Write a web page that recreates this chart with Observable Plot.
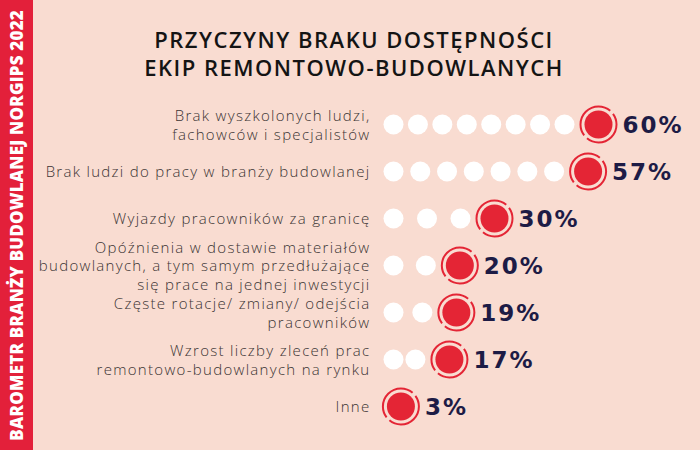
<!DOCTYPE html>
<html>
<head>
<meta charset="utf-8">
<script src="https://cdn.jsdelivr.net/npm/d3@7"></script>
<script src="https://cdn.jsdelivr.net/npm/@observablehq/plot@0.6"></script>
<style>
  html, body { margin: 0; padding: 0; background: #f9dcd1; }
  #wrap { width: 700px; height: 450px; display: flex; background: #f9dcd1; overflow: hidden; }
  #band { width: 33px; height: 450px; background: #e3203a; display: flex; align-items: center; justify-content: center; flex: none; }
  #band span { writing-mode: vertical-rl; transform: rotate(180deg); color: #fff; font-family: "Open Sans", sans-serif; font-weight: 800; font-size: 17px; letter-spacing: 0.2px; white-space: nowrap; }
  #main { width: 667px; flex: none; }
  #title { height: 98px; box-sizing: border-box; padding-top: 25px; padding-right: 25px; text-align: center; font-family: "Open Sans", sans-serif; font-weight: 600; font-size: 22px; line-height: 28px; letter-spacing: 1.5px; color: #141414; }
  g[font-family="DejaVu Sans"] text { letter-spacing: 2px; }
  g[font-family="Open Sans"] text { letter-spacing: 1.3px; }
</style>
</head>
<body>
<div id="wrap">
  <div id="band"><span>BAROMETR BRANŻY BUDOWLANEJ NORGIPS 2022</span></div>
  <div id="main">
    <div id="title">PRZYCZYNY BRAKU DOSTĘPNOŚCI<br>EKIP REMONTOWO-BUDOWLANYCH</div>
    <div id="chart"></div>
  </div>
</div>
<script>
const categories = [
  "Brak wyszkolonych ludzi,\nfachowców i specjalistów",
  "Brak ludzi do pracy w branży budowlanej",
  "Wyjazdy pracowników za granicę",
  "Opóźnienia w dostawie materiałów\nbudowlanych, a tym samym przedłużające\nsię prace na jednej inwestycji",
  "Częste rotacje/ zmiany/ odejścia\npracowników",
  "Wzrost liczby zleceń prac\nremontowo-budowlanych na rynku",
  "Inne"
];
const values = [60, 57, 30, 20, 19, 17, 3];
const whiteDots = [8, 7, 3, 2, 2, 2, 0];

const red = "#e42535", navy = "#1d1b45";
const xDomain = [0, 60], xRange = [357, 565];
const xs = d3.scaleLinear().domain(xDomain).range(xRange);

const rows = categories.map((c, i) => ({cat: c, value: values[i], n: whiteDots[i]}));
const whites = [];
rows.forEach(r => {
  const start = 360, end = xs(r.value) - 34;
  for (let i = 0; i < r.n; i++) {
    const px = r.n > 1 ? start + i * (end - start) / (r.n - 1) : start;
    whites.push({cat: r.cat, x: xs.invert(px)});
  }
});

const chart = Plot.plot({
  width: 667,
  height: 352,
  marginLeft: 345,
  marginRight: 0,
  marginTop: 0,
  marginBottom: 0,
  style: {background: "transparent", overflow: "visible"},
  x: {domain: xDomain, range: xRange, axis: null},
  y: {type: "point", domain: categories, range: [24, 309], padding: 0, axis: null},
  marks: [
    Plot.text(rows, {y: "cat", text: "cat", frameAnchor: "left", textAnchor: "end", dx: -8,
      lineHeight: 1.24, fontSize: 15, fontWeight: 300, fontFamily: "Open Sans", fill: "#3b3434"}),
    Plot.dot(whites, {x: "x", y: "cat", r: 10, fill: "#ffffff"}),
    Plot.dot(rows, {x: "value", y: "cat", r: 14, fill: red}),
    Plot.dot(rows, {x: "value", y: "cat", r: 18, fill: "none", stroke: red, strokeWidth: 2,
      strokeDasharray: "52.5,4", strokeDashoffset: 12}),
    Plot.text(rows, {x: "value", y: "cat", text: d => d.value + "%", dx: 24, dy: 1, textAnchor: "start",
      fontSize: 23, fontWeight: 700, fontFamily: "DejaVu Sans", fill: navy})
  ]
});
document.getElementById("chart").appendChild(chart);
</script>
</body>
</html>
